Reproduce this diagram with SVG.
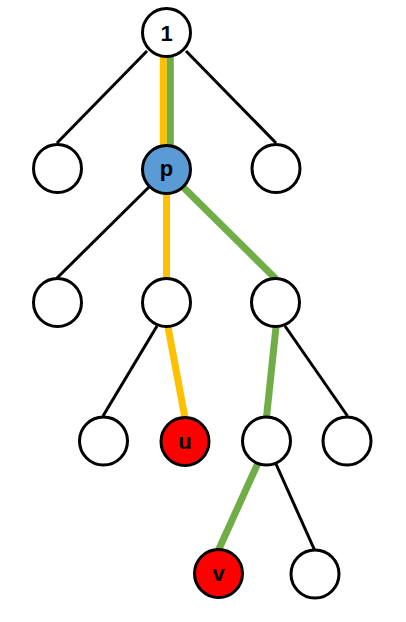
<svg xmlns="http://www.w3.org/2000/svg" width="406" height="622" viewBox="0 0 406 622">
<style>
.e{stroke:#000;stroke-width:3;fill:none}
.o{stroke:#FFC000;stroke-width:7;fill:none}
.g{stroke:#70AD47;stroke-width:7;fill:none}
.n{fill:#fff;stroke:#000;stroke-width:3}
.b{fill:#5B9BD5}
.r{fill:#FF0000}
text{font-family:"Liberation Sans",Arial,sans-serif;font-weight:bold;font-size:22px;text-anchor:middle;fill:#000}
</style>
<rect width="406" height="622" fill="#fff"/>
<g id="edges">
<line class="e" x1="147" y1="51" x2="57" y2="143"/>
<line class="e" x1="186" y1="51" x2="276" y2="143"/>
<line class="o" x1="163.3" y1="55" x2="163.3" y2="147"/>
<line class="g" x1="170.3" y1="55" x2="170.3" y2="147"/>
<line class="e" x1="149" y1="187" x2="57" y2="278"/>
<line class="o" x1="166.5" y1="192" x2="166.5" y2="279"/>
<line class="g" x1="183" y1="187" x2="276" y2="279"/>
<line class="e" x1="157" y1="326" x2="103" y2="416"/>
<line class="o" x1="168" y1="327" x2="185" y2="418"/>
<line class="g" x1="276" y1="327" x2="266.5" y2="417"/>
<line class="e" x1="285" y1="326" x2="347.5" y2="416"/>
<line class="g" x1="258" y1="463" x2="218.5" y2="550"/>
<line class="e" x1="276" y1="464" x2="315" y2="551"/>
</g>
<g id="n1"><circle class="n" cx="166.5" cy="32.5" r="24"/><text x="166.5" y="40.5">1</text></g>
<g id="n2"><circle class="n" cx="57.5" cy="168.5" r="24"/></g>
<g id="np"><circle class="n b" cx="166.5" cy="169.5" r="24"/><text x="166.5" y="176">p</text></g>
<g id="n4"><circle class="n" cx="276" cy="168.5" r="24"/></g>
<g id="n5"><circle class="n" cx="57.5" cy="302.5" r="24"/></g>
<g id="n6"><circle class="n" cx="166.5" cy="302.5" r="24"/></g>
<g id="n7"><circle class="n" cx="275.5" cy="302.5" r="24"/></g>
<g id="n8"><circle class="n" cx="103.5" cy="441" r="24"/></g>
<g id="nu"><circle class="n r" cx="185" cy="441.5" r="24"/><text x="185" y="449">u</text></g>
<g id="n10"><circle class="n" cx="266.5" cy="441" r="24"/></g>
<g id="n11"><circle class="n" cx="347" cy="441" r="24"/></g>
<g id="nv"><circle class="n r" cx="218.5" cy="573.5" r="24"/><text x="218.5" y="581">v</text></g>
<g id="n13"><circle class="n" cx="315" cy="574" r="24"/></g>
</svg>
